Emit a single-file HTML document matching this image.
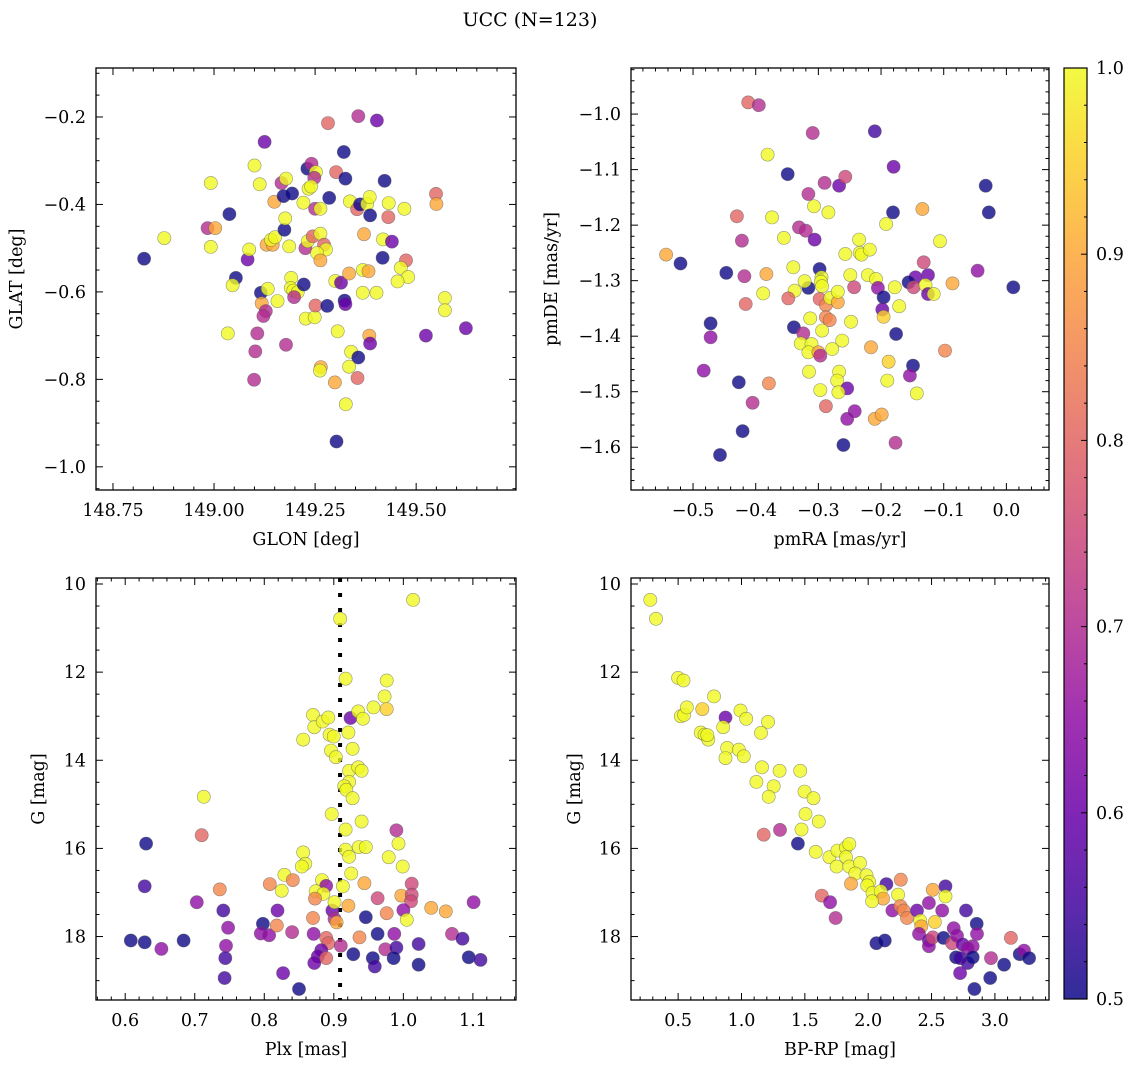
<!DOCTYPE html>
<html><head><meta charset="utf-8"><title>UCC (N=123)</title>
<style>
html,body{margin:0;padding:0;background:#fff;}
svg{display:block;font-family:"DejaVu Serif","Liberation Serif",serif;}
</style></head>
<body>
<svg id="fig" width="1136" height="1067" viewBox="0 0 1136 1067" xmlns="http://www.w3.org/2000/svg">
<defs>
<linearGradient id="plasmaGrad" x1="0" y1="1" x2="0" y2="0">
<stop offset="0" stop-color="#0d0887"/><stop offset="0.1" stop-color="#41049d"/><stop offset="0.2" stop-color="#6a00a8"/><stop offset="0.3" stop-color="#8f0da4"/><stop offset="0.4" stop-color="#b12a90"/><stop offset="0.5" stop-color="#cc4778"/><stop offset="0.6" stop-color="#e16462"/><stop offset="0.7" stop-color="#f2844b"/><stop offset="0.8" stop-color="#fca636"/><stop offset="0.9" stop-color="#fcce25"/><stop offset="1" stop-color="#f0f921"/>
</linearGradient>
</defs>
<text x="530" y="26" font-size="19" text-anchor="middle">UCC (N=123)</text>
</svg>
<script>
// ---- Panel 1: GLON vs GLAT ----
const p1X=[148.827,148.877,148.992,148.984,149.003,148.992,149.038,149.083,149.054,149.046,149.087,149.100,149.125,149.113,149.034,149.107,149.102,149.099,149.178,149.116,149.133,149.118,149.128,149.122,149.157,149.130,149.145,149.141,149.151,149.186,149.174,149.176,149.149,149.172,149.193,149.167,149.178,149.191,149.190,149.196,149.207,149.198,149.222,149.221,149.231,149.241,149.252,149.248,149.234,149.240,149.250,149.263,149.226,149.232,149.244,149.263,149.272,149.277,149.255,149.263,149.227,149.249,149.251,149.280,149.282,149.302,149.285,149.321,149.325,149.300,149.314,149.334,149.323,149.325,149.306,149.264,149.262,149.299,149.326,149.303,149.339,149.357,149.334,149.355,149.336,149.354,149.361,149.379,149.385,149.386,149.357,149.403,149.422,149.371,149.368,149.382,149.368,149.402,149.384,149.386,149.432,149.431,149.418,149.417,149.440,149.471,149.475,149.462,149.480,149.454,149.524,149.549,149.550,149.571,149.571,149.623];
const p1Y=[-0.524,-0.477,-0.351,-0.454,-0.454,-0.497,-0.422,-0.526,-0.568,-0.585,-0.503,-0.311,-0.257,-0.354,-0.695,-0.695,-0.736,-0.801,-0.721,-0.602,-0.593,-0.626,-0.644,-0.655,-0.621,-0.492,-0.492,-0.481,-0.475,-0.496,-0.458,-0.432,-0.394,-0.381,-0.375,-0.351,-0.341,-0.568,-0.591,-0.597,-0.601,-0.612,-0.583,-0.396,-0.318,-0.307,-0.326,-0.339,-0.364,-0.359,-0.410,-0.410,-0.500,-0.484,-0.473,-0.467,-0.492,-0.503,-0.511,-0.528,-0.661,-0.658,-0.631,-0.632,-0.214,-0.326,-0.385,-0.280,-0.341,-0.575,-0.579,-0.558,-0.620,-0.628,-0.690,-0.772,-0.780,-0.807,-0.857,-0.942,-0.737,-0.750,-0.771,-0.797,-0.393,-0.411,-0.400,-0.399,-0.383,-0.425,-0.198,-0.208,-0.346,-0.468,-0.550,-0.553,-0.602,-0.602,-0.700,-0.718,-0.397,-0.429,-0.480,-0.522,-0.485,-0.410,-0.528,-0.545,-0.566,-0.576,-0.700,-0.376,-0.399,-0.614,-0.642,-0.683];
const p1C=[0.5,1,1,0.7,0.9,1,0.5,0.6,0.5,1,1,1,0.6,1,1,0.7,0.7,0.7,0.7,0.5,1,0.9,0.7,0.7,1,0.9,0.9,1,1,1,0.5,1,0.9,0.5,0.5,0.7,1,1,1,1,1,0.7,0.5,1,0.5,0.7,1,0.7,1,1,0.7,1,0.7,1,0.8,1,0.8,1,1,0.9,1,1,0.8,0.5,0.8,0.8,0.5,0.5,0.5,1,0.6,0.9,0.5,0.6,1,0.9,1,0.9,1,0.5,1,0.5,1,0.8,1,0.8,0.5,1,1,0.5,0.7,0.6,0.5,0.9,1,0.9,1,1,0.9,0.6,1,0.8,1,0.5,0.6,1,0.8,1,1,1,0.6,0.8,0.9,1,1,0.6];
// ---- Panel 2: pmRA vs pmDE ----
const p2X=[-0.543,-0.520,-0.447,-0.422,-0.430,-0.418,-0.416,-0.388,-0.383,-0.374,-0.381,-0.412,-0.395,-0.349,-0.355,-0.340,-0.338,-0.348,-0.331,-0.320,-0.316,-0.309,-0.307,-0.306,-0.290,-0.284,-0.267,-0.257,-0.210,-0.180,-0.181,-0.192,-0.134,-0.106,-0.033,-0.028,-0.046,-0.086,0.011,-0.132,-0.125,-0.145,-0.156,-0.148,-0.129,-0.125,-0.116,-0.235,-0.234,-0.231,-0.218,-0.257,-0.249,-0.221,-0.208,-0.205,-0.178,-0.243,-0.298,-0.295,-0.296,-0.294,-0.316,-0.322,-0.298,-0.288,-0.281,-0.269,-0.269,-0.196,-0.198,-0.196,-0.171,-0.288,-0.282,-0.313,-0.248,-0.294,-0.339,-0.324,-0.328,-0.311,-0.316,-0.300,-0.297,-0.278,-0.262,-0.216,-0.176,-0.188,-0.098,-0.149,-0.154,-0.190,-0.143,-0.315,-0.267,-0.270,-0.254,-0.297,-0.268,-0.379,-0.427,-0.472,-0.472,-0.483,-0.405,-0.421,-0.457,-0.288,-0.242,-0.254,-0.210,-0.199,-0.260,-0.177];
const p2Y=[-1.253,-1.269,-1.286,-1.228,-1.184,-1.292,-1.342,-1.323,-1.288,-1.186,-1.073,-0.979,-0.984,-1.108,-1.223,-1.276,-1.318,-1.332,-1.204,-1.210,-1.144,-1.034,-1.166,-1.226,-1.124,-1.177,-1.129,-1.113,-1.031,-1.095,-1.177,-1.198,-1.171,-1.229,-1.129,-1.177,-1.282,-1.305,-1.312,-1.267,-1.290,-1.294,-1.303,-1.312,-1.308,-1.324,-1.324,-1.226,-1.250,-1.253,-1.244,-1.252,-1.290,-1.290,-1.297,-1.313,-1.312,-1.312,-1.279,-1.294,-1.302,-1.310,-1.313,-1.301,-1.333,-1.344,-1.331,-1.339,-1.320,-1.330,-1.352,-1.365,-1.346,-1.366,-1.371,-1.368,-1.374,-1.390,-1.384,-1.395,-1.413,-1.414,-1.429,-1.429,-1.435,-1.423,-1.408,-1.420,-1.396,-1.446,-1.426,-1.453,-1.471,-1.480,-1.503,-1.464,-1.464,-1.480,-1.494,-1.497,-1.501,-1.485,-1.483,-1.377,-1.402,-1.462,-1.520,-1.571,-1.614,-1.526,-1.535,-1.549,-1.549,-1.541,-1.596,-1.592];
const p2C=[0.9,0.5,0.5,0.7,0.8,0.7,0.8,1,0.9,1,1,0.8,0.7,0.5,1,1,1,0.8,0.7,0.7,0.7,0.7,1,0.6,0.7,1,0.6,0.75,0.55,0.6,0.5,1,0.9,1,0.5,0.5,0.65,0.9,0.5,0.75,0.6,0.6,0.5,0.75,1,0.6,1,1,1,1,1,1,1,1,1,0.65,1,0.75,0.5,1,1,1,0.5,1,0.8,0.85,1,0.9,1,0.5,0.6,0.95,1,0.85,0.85,1,1,1,0.5,0.7,1,1,1,0.9,0.7,1,1,0.9,0.5,0.95,0.85,0.5,0.65,1,1,1,1,1,0.6,1,1,0.85,0.5,0.5,0.65,0.65,0.7,0.5,0.5,0.8,0.65,0.65,0.9,0.9,0.5,0.7];
// ---- Panel 3: Plx vs G ----
const p3X=[0.608,0.628,0.630,0.628,0.652,0.684,0.703,0.713,0.710,0.736,0.741,0.748,0.745,0.744,0.743,0.808,0.798,0.795,0.807,0.819,0.818,0.829,0.825,0.841,0.840,0.827,0.850,0.856,0.856,0.859,0.854,0.870,0.872,0.884,0.892,0.894,0.900,0.896,0.903,0.897,0.909,0.883,0.889,0.874,0.885,0.873,0.898,0.870,0.901,0.901,0.904,0.871,0.889,0.892,0.882,0.877,0.872,0.889,0.910,0.917,0.921,0.927,0.924,0.935,0.942,0.957,0.976,0.973,0.976,0.922,0.935,0.940,0.922,0.915,0.918,0.927,0.940,0.917,0.917,0.922,0.936,0.946,0.925,0.913,0.921,0.944,0.937,0.928,0.946,0.963,0.963,0.956,0.959,0.976,0.974,0.990,0.993,0.979,0.999,0.997,1.012,1.012,1.011,1.000,1.005,0.987,0.990,0.986,1.022,1.022,1.014,1.040,1.061,1.070,1.085,1.101,1.094,1.111];
const p3Y=[18.09,18.13,15.89,16.86,18.28,18.09,17.22,14.83,15.70,16.93,17.41,17.80,18.21,18.49,18.94,16.81,17.71,17.93,17.97,17.41,17.75,16.60,16.96,16.72,17.90,18.83,19.19,13.53,16.09,16.35,16.41,12.97,13.25,13.12,13.03,13.42,13.46,13.78,13.93,15.22,10.79,16.72,16.85,16.97,17.03,17.14,17.41,17.58,17.22,17.60,17.68,17.94,18.03,18.15,18.31,18.45,18.60,18.49,18.21,12.15,13.37,13.74,13.04,12.89,13.06,12.80,12.19,12.55,12.84,14.24,14.16,14.24,14.49,14.59,14.67,14.86,15.39,15.57,16.03,16.19,15.97,15.97,16.57,16.86,17.30,16.79,18.02,18.40,17.56,17.13,17.94,18.49,18.68,17.47,18.29,15.59,15.89,16.20,16.41,17.07,16.80,17.05,17.20,17.40,17.62,17.94,18.25,18.49,18.17,18.64,10.36,17.35,17.43,17.94,18.05,17.22,18.47,18.53];
const p3C=[0.5,0.5,0.5,0.55,0.65,0.5,0.65,1,0.8,0.85,0.55,0.65,0.65,0.55,0.55,0.85,0.5,0.65,0.65,0.6,0.85,1,1,0.85,0.7,0.6,0.5,1,1,1,1,1,1,1,1,1,1,1,1,1,1,1,0.65,1,1,0.85,0.6,0.85,1,0.7,0.9,0.65,0.8,0.8,0.6,0.6,0.6,0.8,0.7,1,1,1,0.6,1,1,1,1,1,0.95,1,1,1,1,1,1,1,1,1,1,1,1,1,1,1,0.9,0.9,0.85,0.5,0.5,0.75,0.5,0.5,0.55,0.85,0.7,0.7,1,1,1,0.9,0.75,0.75,0.75,0.65,1,0.65,0.55,0.5,0.55,0.5,1,0.9,0.9,0.7,0.55,0.65,0.5,0.55];
// ---- Panel 4: BP-RP vs G ----
const p4X=[0.280,0.325,0.500,0.542,0.783,0.521,0.547,0.568,0.691,0.874,0.856,0.678,0.709,0.738,0.730,0.992,1.037,0.887,0.874,0.979,1.018,1.209,1.154,1.162,1.301,1.463,1.118,1.254,1.215,1.497,1.568,1.505,1.610,1.474,1.175,1.304,1.445,1.586,1.694,1.757,1.825,1.851,1.825,1.751,1.851,1.935,1.898,1.864,1.987,2.008,1.992,2.034,2.144,2.099,2.118,2.031,2.236,2.257,1.634,1.699,1.743,2.191,2.254,2.280,2.306,2.385,2.411,2.419,2.479,2.510,2.610,2.610,2.584,2.526,2.401,2.479,2.479,2.510,2.594,2.662,2.675,2.701,2.772,2.856,2.859,2.746,2.825,2.785,2.694,2.725,2.785,2.825,2.725,2.838,2.065,2.131,2.969,3.073,2.963,3.126,3.196,3.230,3.270];
const p4Y=[10.36,10.79,12.13,12.19,12.55,13.00,12.97,12.80,12.84,13.03,13.25,13.37,13.42,13.53,13.43,12.87,13.06,13.72,13.95,13.76,13.91,13.13,13.38,14.16,14.24,14.24,14.49,14.59,14.83,14.71,14.86,15.22,15.39,15.57,15.69,15.58,15.89,16.08,16.20,16.05,15.98,15.90,16.20,16.41,16.41,16.33,16.57,16.80,16.61,16.76,16.84,17.01,16.81,16.97,17.14,17.20,17.05,16.71,17.07,17.22,17.58,17.41,17.31,17.41,17.58,17.41,17.64,17.77,17.24,16.94,16.86,17.09,17.41,17.67,17.94,18.09,18.22,18.02,18.03,18.15,17.81,17.98,17.41,17.71,17.94,18.18,18.22,18.27,18.47,18.49,18.60,18.47,18.83,19.19,18.15,18.09,18.49,18.64,18.94,18.03,18.40,18.32,18.49];
const p4C=[1,1,1,1,1,1,1,1,0.95,0.6,1,1,1,1,1,1,1,1,1,1,1,1,1,1,1,1,1,1,1,1,1,1,1,1,0.8,0.7,0.5,1,1,1,1,1,1,1,1,1,1,0.9,1,1,1,1,0.55,1,0.9,1,1,0.85,0.8,0.65,0.7,0.65,0.85,0.85,0.85,0.6,1,0.9,0.65,0.9,0.55,1,0.65,0.95,0.65,0.6,0.65,0.75,0.5,0.75,0.65,0.65,0.55,0.5,0.65,0.6,0.65,0.65,0.5,0.55,0.55,0.5,0.6,0.5,0.5,0.5,0.7,0.5,0.5,0.8,0.5,0.65,0.5];
// ---- Ticks ----
const p1XTicks=[148.75,149.00,149.25,149.50];
const p1XTickLabels=["148.75","149.00","149.25","149.50"];
const p1YTicks=[-0.2,-0.4,-0.6,-0.8,-1.0];
const p1YTickLabels=["\u22120.2","\u22120.4","\u22120.6","\u22120.8","\u22121.0"];
const p2XTicks=[-0.5,-0.4,-0.3,-0.2,-0.1,0.0];
const p2XTickLabels=["\u22120.5","\u22120.4","\u22120.3","\u22120.2","\u22120.1","0.0"];
const p2YTicks=[-1.0,-1.1,-1.2,-1.3,-1.4,-1.5,-1.6];
const p2YTickLabels=["\u22121.0","\u22121.1","\u22121.2","\u22121.3","\u22121.4","\u22121.5","\u22121.6"];
const p3XTicks=[0.6,0.7,0.8,0.9,1.0,1.1];
const p3XTickLabels=["0.6","0.7","0.8","0.9","1.0","1.1"];
const gTicks=[10,12,14,16,18];
const gTickLabels=["10","12","14","16","18"];
const p4XTicks=[0.5,1.0,1.5,2.0,2.5,3.0];
const p4XTickLabels=["0.5","1.0","1.5","2.0","2.5","3.0"];
const cbTicks=[0.5,0.6,0.7,0.8,0.9,1.0];
const cbTickLabels=["0.5","0.6","0.7","0.8","0.9","1.0"];
const plxMean=0.909;

const NS="http://www.w3.org/2000/svg";
const FS=17.5;
const svg=document.getElementById('fig');
const stops=[[13,8,135],[65,4,157],[106,0,168],[143,13,164],[177,42,144],[204,71,120],[225,100,98],[242,132,75],[252,166,54],[252,206,37],[240,249,33]];
function plasma(v){let t=(v-0.5)/0.5;t=Math.max(0,Math.min(1,t))*10;const i=Math.min(9,Math.floor(t)),f=t-i;const a=stops[i],b=stops[i+1];
return 'rgb('+a.map((c,k)=>Math.round(c+(b[k]-c)*f)).join(',')+')';}
function mk(tag,attrs,parent){const e=document.createElementNS(NS,tag);for(const k in attrs)e.setAttribute(k,attrs[k]);(parent||svg).appendChild(e);return e;}

function panel(o){
  const g=mk('g',{});
  
  
  const sx=v=>o.L+(v-o.x0)/(o.x1-o.x0)*(o.R-o.L);
  const sy=v=>o.T+(v-o.y0)/(o.y1-o.y0)*(o.B-o.T);
  if(o.vline!==undefined){
    const vl=mk('line',{x1:sx(o.vline),x2:sx(o.vline),y1:o.T,y2:o.B,stroke:'#000','stroke-width':4,'stroke-dasharray':'4 11'},g);
    
    
  }
  const pts=mk('g',{},g);
  
  
  for(let i=0;i<o.xs.length;i++){
    const c=mk('circle',{cx:sx(o.xs[i]).toFixed(1),cy:sy(o.ys[i]).toFixed(1),r:6.6,fill:plasma(o.cs[i]),'fill-opacity':0.8,stroke:'#555','stroke-opacity':0.6,'stroke-width':0.6},pts);
    
    
  }
  const fr=mk('rect',{x:o.L,y:o.T,width:o.R-o.L,height:o.B-o.T,fill:'none',stroke:'#000','stroke-width':1.3},g);
  
  
  const tk=mk('g',{stroke:'#000','stroke-width':1},g);
  
  
  const lo=Math.min(o.x0,o.x1),hi=Math.max(o.x0,o.x1);
  for(let k=Math.ceil(lo/o.xm-1e-6);k*o.xm<=hi+1e-9;k++){const v=k*o.xm;const major=o.xt.some(t=>Math.abs(t-v)<1e-6);const len=major?7:3.5;const x=sx(v);
    mk('line',{x1:x,x2:x,y1:o.B,y2:o.B-len},tk);mk('line',{x1:x,x2:x,y1:o.T,y2:o.T+len},tk);}
  const ylo=Math.min(o.y0,o.y1),yhi=Math.max(o.y0,o.y1);
  for(let k=Math.ceil(ylo/o.ym-1e-6);k*o.ym<=yhi+1e-9;k++){const v=k*o.ym;const major=o.yt.some(t=>Math.abs(t-v)<1e-6);const len=major?7:3.5;const y=sy(v);
    mk('line',{x1:o.L,x2:o.L+len,y1:y,y2:y},tk);mk('line',{x1:o.R,x2:o.R-len,y1:y,y2:y},tk);}
  o.xt.forEach((v,i)=>{const t=mk('text',{x:sx(v),y:o.B+26,'font-size':FS,'text-anchor':'middle'},g);t.textContent=o.xl[i];
    
    });
  o.yt.forEach((v,i)=>{const t=mk('text',{x:o.L-10,y:sy(v)+6,'font-size':FS,'text-anchor':'end'},g);t.textContent=o.yl[i];
    
    });
  const xt=mk('text',{x:(o.L+o.R)/2,y:o.B+55,'font-size':FS,'text-anchor':'middle'},g);xt.textContent=o.xlabel;
  
  
  const yx=o.ylx,yy=(o.T+o.B)/2;
  const yt=mk('text',{x:yx,y:yy,'font-size':FS,'text-anchor':'middle',transform:'rotate(-90 '+yx+' '+yy+')'},g);yt.textContent=o.ylabel;
  
  
}
panel({name:'panel-glon-glat',L:96,R:516,T:68,B:490,x0:148.708,x1:149.747,y0:-0.088,y1:-1.053,xs:p1X,ys:p1Y,cs:p1C,xt:p1XTicks,xl:p1XTickLabels,yt:p1YTicks,yl:p1YTickLabels,xm:0.05,ym:0.05,xlabel:'GLON [deg]',ylabel:'GLAT [deg]',ylx:22});
panel({name:'panel-pmra-pmde',L:631,R:1049,T:68,B:490,x0:-0.599,x1:0.068,y0:-0.917,y1:-1.677,xs:p2X,ys:p2Y,cs:p2C,xt:p2XTicks,xl:p2XTickLabels,yt:p2YTicks,yl:p2YTickLabels,xm:0.02,ym:0.02,xlabel:'pmRA [mas/yr]',ylabel:'pmDE [mas/yr]',ylx:557});
panel({name:'panel-plx-g',L:96,R:516,T:578,B:1000,x0:0.558,x1:1.162,y0:9.864,y1:19.44,xs:p3X,ys:p3Y,cs:p3C,xt:p3XTicks,xl:p3XTickLabels,yt:gTicks,yl:gTickLabels,xm:0.02,ym:0.5,xlabel:'Plx [mas]',ylabel:'G [mag]',ylx:44,vline:plxMean});
panel({name:'panel-bprp-g',L:631,R:1049,T:578,B:1000,x0:0.128,x1:3.427,y0:9.864,y1:19.44,xs:p4X,ys:p4Y,cs:p4C,xt:p4XTicks,xl:p4XTickLabels,yt:gTicks,yl:gTickLabels,xm:0.1,ym:0.5,xlabel:'BP-RP [mag]',ylabel:'G [mag]',ylx:580});

// ---- Colorbar ----
const cb=mk('g',{});


const cbT=68,cbB=999,cbL=1064,cbR=1087;
const cy=v=>cbB-(v-0.5)/0.5*(cbB-cbT);
mk('rect',{x:cbL,y:cbT,width:cbR-cbL,height:cbB-cbT,fill:'url(#plasmaGrad)','fill-opacity':0.85},cb);
mk('rect',{x:cbL,y:cbT,width:cbR-cbL,height:cbB-cbT,fill:'none',stroke:'#000','stroke-width':1.2},cb);
for(let k=25;k<=50;k++){const v=k*0.02;const major=(k%5===0);const y=cy(v);mk('line',{x1:cbR,x2:cbR-(major?6:3),y1:y,y2:y,stroke:'#000','stroke-width':1},cb);}
cbTicks.forEach((v,i)=>{const t=mk('text',{x:cbR+9,y:cy(v)+6,'font-size':FS},cb);t.textContent=cbTickLabels[i];
  
  });
</script>
</body></html>
